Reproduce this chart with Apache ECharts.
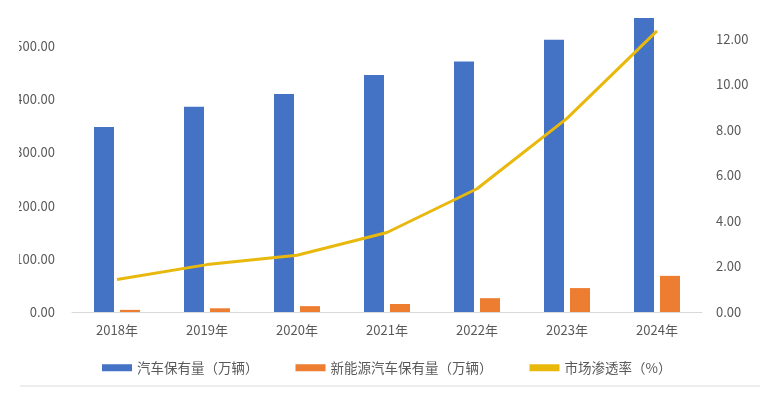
<!DOCTYPE html>
<html>
<head>
<meta charset="utf-8">
<script src="https://cdn.jsdelivr.net/npm/echarts@6/dist/echarts.min.js"></script>
<style>
  html, body { margin: 0; padding: 0; background: #fff; }
  #main { width: 768px; height: 396px; }
</style>
</head>
<body>
<div id="main"></div>
<script>
// 数据
var years = ['2018年', '2019年', '2020年', '2021年', '2022年', '2023年', '2024年'];
var carStock = [348, 386, 410, 446, 471, 512, 553];      // 汽车保有量（万辆）
var nevStock = [4, 7, 11, 15, 26, 45, 68];                // 新能源汽车保有量（万辆）
var penetration = [1.43, 2.08, 2.49, 3.49, 5.41, 8.50, 12.34]; // 市场渗透率（%）

var seriesNames = ['汽车保有量（万辆）', '新能源汽车保有量（万辆）', '市场渗透率（%）'];

var font = '"Noto Sans CJK SC", "Noto Sans", sans-serif';
var textColor = '#595959';

var chart = echarts.init(document.getElementById('main'), null, { renderer: 'canvas' });

var option = {
  animation: false,
  backgroundColor: '#fff',
  textStyle: { fontFamily: font },
  legend: {
    left: 97,
    top: 356,
    itemWidth: 30,
    itemHeight: 7,
    itemGap: 37,
    textStyle: { color: textColor, fontSize: 13.5, fontFamily: font },
    data: [
      { name: seriesNames[0], icon: 'rect' },
      { name: seriesNames[1], icon: 'rect' },
      { name: seriesNames[2], icon: 'rect', itemStyle: { color: '#E9B80C' } }
    ]
  },
  grid: {
    left: 72,
    right: 66,
    top: -7,
    bottom: 84,
    containLabel: false,
    outerBoundsMode: 'none'
  },
  xAxis: {
    type: 'category',
    data: years,
    axisTick: { show: false },
    axisLine: { lineStyle: { color: '#d9d9d9', width: 1 } },
    axisLabel: { color: textColor, fontSize: 13, margin: 12, fontFamily: font }
  },
  yAxis: [
    {
      type: 'value',
      min: 0,
      max: 600,
      interval: 100,
      splitLine: { show: false },
      axisLine: { show: false },
      axisTick: { show: false },
      axisLabel: {
        color: textColor, fontSize: 13, margin: 17, fontFamily: font,
        formatter: function (v) { return v.toFixed(2); }
      }
    },
    {
      type: 'value',
      min: 0,
      max: 14,
      interval: 2,
      splitLine: { show: false },
      axisLine: { show: false },
      axisTick: { show: false },
      axisLabel: {
        color: textColor, fontSize: 13, margin: 14, fontFamily: font,
        formatter: function (v) { return v.toFixed(2); }
      }
    }
  ],
  series: [
    {
      name: seriesNames[0],
      type: 'bar',
      data: carStock,
      barWidth: 20,
      barGap: '30%',
      itemStyle: { color: '#4472C4' }
    },
    {
      name: seriesNames[1],
      type: 'bar',
      data: nevStock,
      barWidth: 20,
      itemStyle: { color: '#ED7D31' }
    },
    {
      name: seriesNames[2],
      type: 'line',
      yAxisIndex: 1,
      data: penetration,
      symbol: 'none',
      z: 5,
      lineStyle: { color: '#E9B80C', width: 3 },
      itemStyle: { color: '#E9B80C' }
    }
  ],
  graphic: [
    // 原图左侧被裁切
    {
      type: 'rect',
      left: 0, top: 0, z: 100,
      shape: { width: 19, height: 330 },
      style: { fill: '#fff' }
    },
    // 底部分隔线
    {
      type: 'line',
      z: 100,
      shape: { x1: 20, y1: 386, x2: 760, y2: 386 },
      style: { stroke: '#dcdcdc', lineWidth: 1 }
    }
  ]
};

chart.setOption(option);
</script>
</body>
</html>
